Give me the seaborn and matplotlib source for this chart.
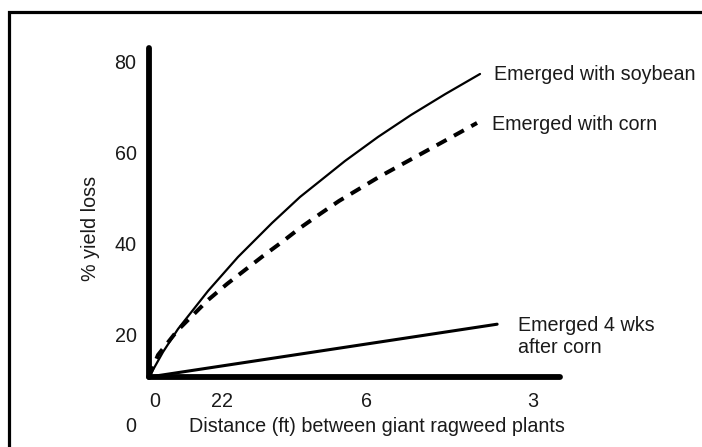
import matplotlib
matplotlib.use("Agg")
import matplotlib.pyplot as plt
import matplotlib.patches as mpatches
import seaborn as sns
import pandas as pd

# ---- data ----
soy_x = [0, 3.41, 7.06, 14.36, 21.65, 29.93, 36.74, 41.61, 47.69, 55.72, 63.75, 72.02, 80.54]
soy_y = [10.57, 16.08, 21.15, 29.52, 37.0, 44.49, 50.22, 53.74, 58.15, 63.44, 68.28, 72.85, 77.31]

corn_x = [0, 2.19, 6.81, 9.98, 14.36, 18.98, 23.36, 27.74, 32.36, 36.74, 41.61, 46.23,
          51.09, 55.96, 60.83, 65.69, 70.56, 75.43, 79.81]
corn_y = [10.57, 15.42, 20.70, 23.57, 27.53, 31.06, 34.14, 37.22, 40.31, 43.39, 46.48, 49.34,
          51.98, 54.63, 57.05, 59.47, 61.89, 64.32, 66.52]

late_x = [0, 84.7]
late_y = [10.57, 22.2]

xtick_pos = [1.5, 17.8, 52.8, 93.4]
xtick_labels = ["0", "22", "6", "3"]
ytick_pos = [0, 20, 40, 60, 80]
ytick_labels = ["0", "20", "40", "60", "80"]

series_labels = ["Emerged with soybean", "Emerged with corn", "Emerged 4 wks\nafter corn"]

sns.set_style("white")
plt.rcParams["font.family"] = ["Liberation Sans", "DejaVu Sans"]

W, H = 702, 447
fig = plt.figure(figsize=(W / 100, H / 100), dpi=100)
ax = fig.add_axes([149 / W, 22 / H, 411 / W, 381.4 / H])
ax.set_facecolor("none")

soy = pd.DataFrame({"x": soy_x, "y": soy_y})
corn = pd.DataFrame({"x": corn_x, "y": corn_y})
late = pd.DataFrame({"x": late_x, "y": late_y})

sns.lineplot(data=soy, x="x", y="y", ax=ax, color="black", lw=1.6, sort=False)
sns.lineplot(data=corn, x="x", y="y", ax=ax, color="black", lw=2.9, sort=False,
             linestyle=(0, (2.8, 2.1)))
sns.lineplot(data=late, x="x", y="y", ax=ax, color="black", lw=2.2, sort=False)
for ln in ax.lines:
    ln.set_solid_joinstyle("round")
    ln.set_dash_joinstyle("round")

ax.set_xlim(0, 100)
ax.set_ylim(0, 84)

for s in ["top", "right"]:
    ax.spines[s].set_visible(False)
for s in ["left", "bottom"]:
    ax.spines[s].set_linewidth(4.2)
    ax.spines[s].set_color("black")
    ax.spines[s].set_capstyle("round")
ax.spines["left"].set_bounds(10.6, 83)
ax.spines["bottom"].set_position(("data", 10.6))
ax.spines["bottom"].set_bounds(0, 100)

fs = 14.2
ax.set_xticks(xtick_pos)
ax.set_xticklabels(xtick_labels)
ax.set_yticks(ytick_pos)
ax.set_yticklabels(ytick_labels)
ax.tick_params(axis="both", length=0, labelsize=fs, labelcolor="#1a1a1a")
ax.tick_params(axis="y", pad=9)
ax.tick_params(axis="x", pad=11)

ax.set_xlabel("Distance (ft) between giant ragweed plants", fontsize=fs, color="#1a1a1a")
ax.xaxis.label.set_va("center")
ax.xaxis.set_label_coords((377 - 149) / 411, (447 - 427 - 22) / 381.4)
ax.set_ylabel("% yield loss", fontsize=fs, color="#1a1a1a")
ax.yaxis.label.set_va("center")
ax.yaxis.set_label_coords((90 - 149) / 411, (447 - 228 - 22) / 381.4)

ax.text(83.9, 77.1, series_labels[0], fontsize=fs, va="center", ha="left", color="#1a1a1a")
ax.text(83.5, 66.1, series_labels[1], fontsize=fs, va="center", ha="left", color="#1a1a1a")
ax.text(89.8, 19.6, series_labels[2], fontsize=fs, va="center", ha="left", color="#1a1a1a",
        linespacing=1.2)

frame = mpatches.Rectangle((9 / W, -0.1), 1.2, (H - 12) / H + 0.1, fill=False,
                           lw=2.3, edgecolor="black", transform=fig.transFigure)
fig.patches.append(frame)

fig.savefig("out.png", dpi=100)
